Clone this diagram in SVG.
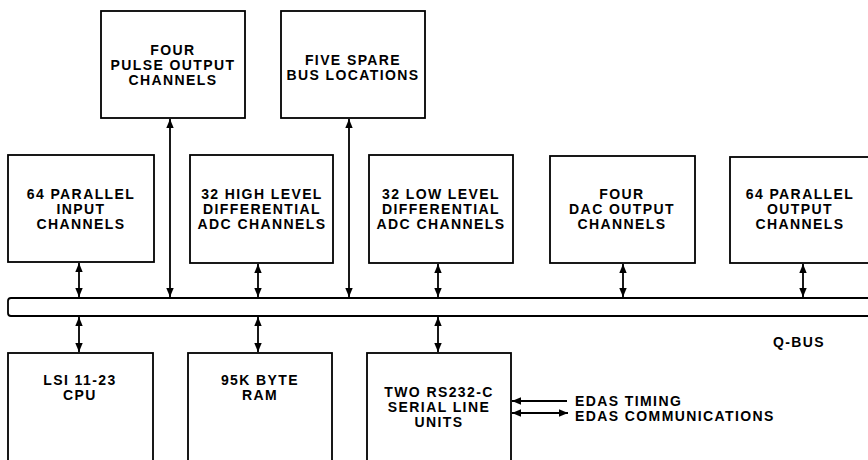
<svg xmlns="http://www.w3.org/2000/svg" width="868" height="460" viewBox="0 0 868 460">
<style>
.box{fill:#fff;stroke:#000;stroke-width:1.8}
.t{font-family:"Liberation Sans",Arial,sans-serif;font-weight:bold;font-size:14px;letter-spacing:1.4px;text-anchor:middle;fill:#000}
.l{font-family:"Liberation Sans",Arial,sans-serif;font-weight:bold;font-size:14px;letter-spacing:1.4px;fill:#000}
.c{stroke:#000;stroke-width:1.8;fill:none}
</style>
<defs>
<marker id="ah" markerUnits="userSpaceOnUse" markerWidth="10" markerHeight="10" viewBox="0 0 10 10" refX="9" refY="5" orient="auto-start-reverse">
<path d="M0,1.3 L9,5 L0,8.7 Z" fill="#000"/>
</marker>
</defs>
<rect width="868" height="460" fill="#fff"/>

<g id="bus">
<path d="M870,298 H11 Q8,298 8,301 V313 Q8,316 11,316 H870" class="c"/>
<text class="l" x="773" y="347">Q-BUS</text>
</g>

<g id="pulse">
<rect class="box" x="101" y="11" width="144" height="107"/>
<text class="t" x="173" y="55">FOUR</text>
<text class="t" x="173" y="70">PULSE OUTPUT</text>
<text class="t" x="173" y="85">CHANNELS</text>
</g>
<g id="spare">
<rect class="box" x="281" y="11" width="144" height="107"/>
<text class="t" x="353" y="65">FIVE SPARE</text>
<text class="t" x="353" y="80">BUS LOCATIONS</text>
</g>

<g id="in64">
<rect class="box" x="8" y="155" width="146" height="107"/>
<text class="t" x="81" y="199">64 PARALLEL</text>
<text class="t" x="81" y="214">INPUT</text>
<text class="t" x="81" y="229">CHANNELS</text>
</g>
<g id="highadc">
<rect class="box" x="190" y="155" width="143" height="108"/>
<text class="t" x="262" y="199">32 HIGH LEVEL</text>
<text class="t" x="262" y="214">DIFFERENTIAL</text>
<text class="t" x="262" y="229">ADC CHANNELS</text>
</g>
<g id="lowadc">
<rect class="box" x="369" y="155" width="144" height="108"/>
<text class="t" x="441" y="199">32 LOW LEVEL</text>
<text class="t" x="441" y="214">DIFFERENTIAL</text>
<text class="t" x="441" y="229">ADC CHANNELS</text>
</g>
<g id="dac">
<rect class="box" x="550" y="156" width="145" height="107"/>
<text class="t" x="622" y="199">FOUR</text>
<text class="t" x="622" y="214">DAC OUTPUT</text>
<text class="t" x="622" y="229">CHANNELS</text>
</g>
<g id="out64">
<rect class="box" x="730" y="157" width="150" height="106"/>
<text class="t" x="800" y="199">64 PARALLEL</text>
<text class="t" x="800" y="214">OUTPUT</text>
<text class="t" x="800" y="229">CHANNELS</text>
</g>

<g id="cpu">
<rect class="box" x="8" y="353" width="145" height="120"/>
<text class="t" x="80" y="385">LSI 11-23</text>
<text class="t" x="80" y="400">CPU</text>
</g>
<g id="ram">
<rect class="box" x="188" y="353" width="144" height="120"/>
<text class="t" x="260" y="385">95K BYTE</text>
<text class="t" x="260" y="400">RAM</text>
</g>
<g id="serial">
<rect class="box" x="367" y="353" width="144" height="120"/>
<text class="t" x="439" y="397">TWO RS232-C</text>
<text class="t" x="439" y="412">SERIAL LINE</text>
<text class="t" x="439" y="427">UNITS</text>
</g>

<g id="connectors">
<line class="c" x1="170" y1="119" x2="170" y2="297" marker-start="url(#ah)" marker-end="url(#ah)"/>
<line class="c" x1="349" y1="119" x2="349" y2="297" marker-start="url(#ah)" marker-end="url(#ah)"/>
<line class="c" x1="79" y1="263" x2="79" y2="297" marker-start="url(#ah)" marker-end="url(#ah)"/>
<line class="c" x1="258" y1="264" x2="258" y2="297" marker-start="url(#ah)" marker-end="url(#ah)"/>
<line class="c" x1="438" y1="264" x2="438" y2="297" marker-start="url(#ah)" marker-end="url(#ah)"/>
<line class="c" x1="623" y1="264" x2="623" y2="297" marker-start="url(#ah)" marker-end="url(#ah)"/>
<line class="c" x1="803" y1="264" x2="803" y2="297" marker-start="url(#ah)" marker-end="url(#ah)"/>
<line class="c" x1="79" y1="317" x2="79" y2="352" marker-start="url(#ah)" marker-end="url(#ah)"/>
<line class="c" x1="258" y1="317" x2="258" y2="352" marker-start="url(#ah)" marker-end="url(#ah)"/>
<line class="c" x1="438" y1="317" x2="438" y2="352" marker-start="url(#ah)" marker-end="url(#ah)"/>
<line class="c" x1="567" y1="401" x2="512" y2="401" marker-end="url(#ah)"/>
<line class="c" x1="512" y1="413" x2="568" y2="413" marker-start="url(#ah)" marker-end="url(#ah)"/>
<text class="l" x="575" y="406">EDAS TIMING</text>
<text class="l" x="575" y="421">EDAS COMMUNICATIONS</text>
</g>
</svg>
